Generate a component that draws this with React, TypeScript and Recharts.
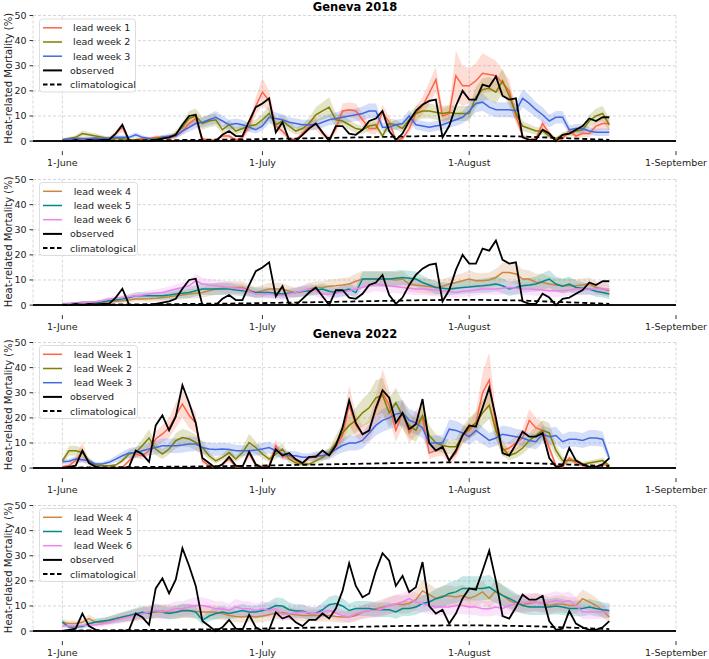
import React from 'react';
import { ComposedChart, Line, Area, XAxis, YAxis, CartesianGrid, ReferenceLine } from 'recharts';

// ---------- categories / ticks ----------
const DAYS = Array.from({ length: 83 }, (_, i) => i); // day offsets from 1 June (1 June .. 22 August)
const X_TICKS = [0, 30, 61, 92];
const X_TICK_LABELS = ['1-June', '1-July', '1-August', '1-September'];
const Y_TICKS = [0, 10, 20, 30, 40, 50];
const TITLES = ['Geneva 2018', 'Geneva 2022'];
const Y_LABEL = 'Heat-related Mortality (%)';

// ---------- 2018 ----------
const OBS_2018 = [
  0, 0, 0.5, 0, 0.5, 0.3, 0.5, 0.5, 3, 6.5,
  0.2, 0, 0, 0, 0.5, 1, 1.5, 2.5, 6.5, 10,
  10.5, 0, 0, 0, 2.5, 4, 2, 2, 8, 13.5,
  15, 17, 3.5, 7.5, 0.5, 0, 2.5, 5, 7, 3.5,
  0, 6, 6, 3, 2.5, 4.5, 8, 9, 12, 4,
  0.5, 3, 8, 12, 14.5, 16, 16.5, 1.5, 6, 14,
  20, 16.5, 16.5, 22.5, 21.7, 25.7, 18, 16.5, 17, 1.5,
  0.5, 0.5, 4.5, 3, 0, 2.5, 3, 4.5, 6, 9,
  8, 9.5, 9.5,
];
const CLIM_2018 = [
  0.1, 0.1, 0.1, 0.15, 0.15, 0.2, 0.2, 0.2, 0.25, 0.25,
  0.3, 0.3, 0.3, 0.35, 0.35, 0.4, 0.4, 0.4, 0.45, 0.45,
  0.5, 0.5, 0.55, 0.55, 0.6, 0.6, 0.65, 0.7, 0.7, 0.75,
  0.8, 0.85, 0.9, 0.95, 1.0, 1.0, 1.1, 1.1, 1.2, 1.2,
  1.3, 1.3, 1.4, 1.4, 1.5, 1.5, 1.6, 1.6, 1.7, 1.7,
  1.8, 1.8, 1.9, 1.9, 2.0, 2.0, 2.0, 2.1, 2.1, 2.1,
  2.1, 2.1, 2.1, 2.1, 2.0, 2.0, 2.0, 1.9, 1.9, 1.8,
  1.7, 1.6, 1.5, 1.4, 1.3, 1.2, 1.1, 1.0, 0.9, 0.8,
  0.7, 0.6, 0.5,
];
const LEAD1_2018 = [
  0.5, 0.8, 1, 0.8, 0.7, 1, 0.8, 1, 3, 5.5,
  0.5, 0.5, 1, 1, 1.5, 1.5, 1, 2, 4, 7,
  9, 1, 0.2, 0.5, 2, 2, 0.5, 1.5, 6, 14,
  19.5, 16, 6, 4, 1, 0.5, 3, 6, 7, 3,
  1, 5, 12, 12.5, 12, 8.5, 5, 5, 11.5, 7.5,
  0.5, 1, 5, 11, 14, 19, 24.5, 10, 11, 26,
  22, 22, 24, 27, 26.5, 26, 23, 20, 10, 2,
  0.5, 1, 7, 3, 0, 1, 4, 2, 3, 3,
  6, 7, 7,
];
const SPREAD1_2018 = [
  0.5, 0.5, 0.6, 0.5, 0.5, 0.6, 0.5, 0.6, 1.2, 2,
  0.5, 0.5, 0.6, 0.6, 0.8, 0.8, 0.6, 1, 1.5, 2,
  2.5, 0.8, 0.3, 0.5, 1, 1, 0.5, 1, 2, 3.5,
  5.5, 4, 2, 1.5, 0.8, 0.5, 1.2, 2, 2.5, 1.5,
  1, 2, 3, 3, 3, 2.5, 2, 2.5, 3, 2.5,
  0.5, 0.8, 2, 3, 3.5, 4.5, 5, 3, 3, 10,
  8, 7, 7, 8, 7, 6, 5, 4.5, 3, 1,
  0.5, 0.8, 2, 1.5, 0.3, 0.8, 1.5, 1, 1.5, 1.5,
  2, 2.5, 2.5,
];
const LEAD2_2018 = [
  0.5, 1, 1.5, 3, 2.5, 2, 1.5, 1, 1, 1,
  0.5, 0.5, 0.5, 0.5, 1, 1.5, 1.5, 3, 5.5, 9,
  10, 7, 8, 8.5, 4.5, 6.5, 4, 5, 6, 6.5,
  8.5, 11, 6.5, 8, 6, 4, 5, 7, 10.5, 12,
  13.5, 8.5, 8, 6.5, 5, 4.5, 6, 6.5, 2, 7,
  6.5, 5, 8.5, 11, 12, 12, 11.5, 11, 11.5, 11,
  11, 11, 17.5, 20.5, 21, 19.5, 24, 18, 11, 6,
  5, 4, 4, 2, 1, 2.5, 3, 4, 4.5, 8,
  10, 11, 6.5,
];
const SPREAD2_2018 = [
  0.5, 0.6, 0.8, 1.2, 1, 1, 0.8, 0.6, 0.6, 0.6,
  0.4, 0.4, 0.4, 0.4, 0.6, 0.8, 0.8, 1.2, 2, 3,
  3, 2.5, 2.5, 2.5, 1.5, 2, 1.5, 1.8, 2, 2,
  2.5, 3, 2, 2.5, 2, 1.5, 1.8, 2.2, 3, 3.5,
  4, 2.5, 2.5, 2, 1.8, 1.6, 2, 2, 1, 2,
  2, 1.8, 2.5, 3, 3, 3, 3, 3, 3, 3,
  3, 3, 4, 4.5, 4.5, 4.5, 5, 4, 3, 2,
  1.8, 1.5, 1.5, 1, 0.6, 1, 1.2, 1.5, 1.5, 2.5,
  3, 3, 2.5,
];
const LEAD3_2018 = [
  0.5, 0.8, 1, 1, 1, 1.2, 1, 1.2, 1.5, 1.5,
  1.5, 2.5, 1.5, 1, 0.5, 1.5, 2, 2, 4, 5.5,
  7, 7.5, 8.5, 9.5, 8, 6.5, 7, 6.5, 5.5, 4.5,
  6, 9.5, 9, 8.5, 7.5, 7, 6.5, 6.5, 6.5, 7.5,
  8.5, 9, 9.5, 10, 10.5, 11, 12, 12, 5.5, 5.5,
  6.5, 7, 10, 6.5, 6, 5.5, 6, 6.5, 7.5, 8.5,
  9.5, 12, 15, 15.5, 13.5, 12.5, 12.5, 12.5, 12, 17,
  15, 12.5, 10.5, 8, 9.5, 9.5, 4.5, 5, 5, 4,
  3.5, 3.5, 3.5,
];
const SPREAD3_2018 = [
  0.5, 0.5, 0.6, 0.6, 0.6, 0.7, 0.6, 0.7, 0.8, 0.8,
  0.8, 1, 0.8, 0.6, 0.5, 0.8, 1, 1, 1.5, 1.8,
  2, 2, 2.2, 2.5, 2.2, 2, 2, 2, 1.8, 1.5,
  1.8, 2.5, 2.5, 2.2, 2, 2, 2, 2, 2, 2.2,
  2.2, 2.5, 2.5, 2.5, 2.5, 2.8, 3, 3, 1.8, 1.8,
  2, 2, 2.5, 2, 2, 2, 2, 2, 2.2, 2.5,
  2.5, 3, 3.5, 3.5, 3, 3, 3, 3, 3, 3.5,
  3.5, 3, 3, 2.5, 2.5, 2.5, 1.8, 1.8, 1.8, 1.5,
  1.5, 1.5, 1.5,
];
const LEAD4_2018 = [
  0.5, 0.5, 0.6, 0.7, 0.8, 0.8, 1, 1.2, 1.5, 1.7,
  2, 2.4, 2.4, 2.5, 2.7, 3, 3.3, 3.7, 4, 4.4,
  4.7, 5, 5.7, 6.4, 6.7, 7, 7, 7, 6, 5,
  5.7, 6.4, 6.4, 6.4, 5.5, 5, 5.5, 6.4, 7, 7,
  7.5, 7.7, 8, 8.4, 9.5, 10.4, 10.4, 10.4, 10.4, 10.4,
  10, 10.4, 8.4, 8, 7.7, 7.4, 7, 7.5, 8.4, 9,
  9.7, 10.4, 9.7, 9.7, 10, 11, 13, 13, 12.4, 10.4,
  10.4, 9, 9, 8.4, 8, 7.7, 7.7, 7.7, 8, 8.4,
  7, 6.4, 5.7,
];
const SPREAD4_2018 = [
  0.5, 0.5, 0.5, 0.6, 0.6, 0.7, 0.7, 0.7, 0.8, 0.9,
  1, 1, 1, 1.2, 1.3, 1.5, 1.6, 1.7, 1.8, 1.9,
  2, 2, 2.2, 2.4, 2.5, 2.5, 2.5, 2.5, 2.3, 2.2,
  2.2, 2.5, 2.5, 2.4, 2.2, 2, 2.2, 2.5, 2.5, 2.5,
  2.7, 2.7, 2.8, 2.8, 3, 3.2, 3.2, 3.2, 3.2, 3.2,
  3.2, 3.2, 3, 3, 3, 3, 3, 2.8, 2.8, 3,
  3, 3.5, 3.2, 3, 3, 3.5, 3.8, 3.8, 4, 3.8,
  3.5, 3.5, 3.5, 3, 2.8, 2.8, 2.8, 2.6, 2.6, 2.6,
  2.5, 2.5, 2.5,
];
const LEAD5_2018 = [
  0.4, 0.5, 0.7, 1, 1, 1, 1.2, 1.7, 2, 2.4,
  3, 3.7, 3.7, 3.7, 3.7, 3.7, 4, 4.4, 4.7, 5,
  5.7, 6.4, 6.4, 6.4, 6.4, 6.4, 6, 5.7, 5.4, 5,
  5, 5, 4.7, 4.4, 4.7, 5, 5.4, 5.7, 6, 6.4,
  5.5, 5, 5.7, 6.4, 5, 10.4, 10.4, 10.4, 10.4, 10.4,
  10.7, 11, 10.7, 10.4, 9, 8, 7, 6.7, 6.4, 6.7,
  7, 7.2, 7.5, 7.7, 8, 8.4, 7.7, 6.4, 7, 7.7,
  8, 8.4, 9.4, 10.4, 8.4, 7.5, 8.4, 7, 6.7, 6.4,
  5.5, 5, 4.4,
];
const SPREAD5_2018 = [
  0.5, 0.5, 0.5, 0.6, 0.6, 0.6, 0.7, 0.8, 1, 1.2,
  1.2, 1.4, 1.4, 1.4, 1.5, 1.6, 1.8, 2, 2, 2.2,
  2.2, 2.4, 2.4, 2.4, 2.4, 2.4, 2.2, 2.2, 2, 2,
  2, 2, 1.8, 1.8, 1.8, 1.8, 2, 2, 2, 2.2,
  2.2, 2, 2.2, 2.4, 2.2, 3, 3, 3, 3, 3,
  3, 3, 3, 3, 2.8, 2.5, 2.5, 2.5, 2.5, 2.5,
  2.6, 2.6, 2.7, 2.8, 3, 3, 3, 2.8, 2.8, 2.8,
  2.8, 3, 3.3, 3.5, 3, 3, 3, 2.8, 2.5, 2.2,
  2.2, 2, 2,
];
const LEAD6_2018 = [
  0.4, 0.5, 0.7, 0.9, 1.1, 1.3, 1.8, 2.4, 2.7, 3,
  3.3, 3.7, 4, 4.4, 4.7, 5, 5.7, 6.4, 7, 7.7,
  9.7, 8.4, 8, 7.7, 7.4, 7, 6.7, 6.4, 5.4, 4.4,
  4.4, 4.4, 4, 3.7, 4.4, 5, 5.7, 6.4, 5.7, 4.4,
  4.4, 4.7, 5.2, 5.7, 6.4, 7, 7.7, 8.4, 8, 7.7,
  7.4, 7, 6.7, 6.4, 6.4, 6.2, 6, 5.7, 5.4, 5,
  5.5, 5.7, 6, 6.4, 6.4, 6.4, 6.7, 7, 6.7, 6.4,
  6.4, 6.2, 6, 5.7, 5.7, 5.7, 6, 6.4, 6.4, 6.4,
  6.4, 6.4, 6.4,
];
const SPREAD6_2018 = [
  0.4, 0.4, 0.5, 0.5, 0.6, 0.6, 0.7, 0.8, 1, 1,
  1.2, 1.2, 1.2, 1.4, 1.5, 1.7, 1.7, 1.8, 2, 2.2,
  2.8, 2.5, 2.4, 2.4, 2.4, 2.4, 2.2, 2.2, 2, 1.8,
  1.8, 1.8, 1.8, 1.7, 1.8, 2, 2.2, 2.4, 2.2, 2,
  2, 2, 2.2, 2.3, 2.5, 2.6, 2.8, 2.8, 2.8, 2.8,
  2.6, 2.6, 2.5, 2.5, 2.5, 2.5, 2.5, 2.4, 2.4, 2.2,
  2.2, 2.2, 2.2, 2.2, 2.2, 2.4, 2.5, 2.6, 2.5, 2.5,
  2.5, 2.5, 2.4, 2.4, 2.4, 2.4, 2.4, 2.4, 2.4, 2.4,
  2.4, 2.4, 2.4,
];

// ---------- 2022 ----------
const OBS_2022 = [
  0, 0.5, 1, 7, 2, 0.5, 0, 0, 0, 0,
  0.5, 7, 5.5, 2.5, 17, 21, 15, 20.5, 33, 26,
  18, 4, 2, 0, 1.5, 4.5, 1, 0.5, 6.5, 1.5,
  0, 0.5, 7.5, 5, 6, 3.5, 2, 4.5, 4.5, 7,
  5, 9, 16, 27, 18, 13.5, 15, 24, 31, 28,
  18, 22, 15.5, 17.5, 27.5, 10, 7, 8.5, 3, 7,
  13, 17, 16.5, 24, 32, 20, 6, 5, 9.5, 14.5,
  12.5, 12.5, 14, 4, 0.5, 1, 8, 3, 1.5, 0.5,
  0.5, 1.5, 4,
];
const CLIM_2022 = [
  0.2, 0.2, 0.2, 0.25, 0.25, 0.3, 0.3, 0.3, 0.35, 0.35,
  0.4, 0.4, 0.45, 0.45, 0.5, 0.5, 0.55, 0.55, 0.6, 0.6,
  0.65, 0.7, 0.7, 0.75, 0.8, 0.8, 0.85, 0.9, 0.9, 0.95,
  1.0, 1.05, 1.1, 1.15, 1.2, 1.25, 1.3, 1.35, 1.4, 1.45,
  1.5, 1.55, 1.6, 1.65, 1.7, 1.75, 1.8, 1.85, 1.9, 1.95,
  2.0, 2.05, 2.1, 2.1, 2.15, 2.2, 2.2, 2.25, 2.25, 2.3,
  2.3, 2.3, 2.25, 2.25, 2.2, 2.2, 2.15, 2.1, 2.05, 2.0,
  1.95, 1.9, 1.8, 1.7, 1.6, 1.5, 1.4, 1.3, 1.2, 1.1,
  1.0, 0.9, 0.8,
];
const LEAD1_2022 = [
  0.5, 1, 3, 6.5, 2, 0.5, 0.2, 0.2, 0.2, 0.3,
  2.9, 5.6, 4.9, 6.9, 11.6, 13.6, 16, 21, 25.5, 21,
  18, 2.9, 1, 0.3, 1.6, 3.6, 0.5, 0.5, 6, 1,
  0.5, 1, 9, 4.5, 5, 3, 2, 4, 4.5, 5,
  5.5, 8.5, 13, 25, 17, 13.5, 15, 23, 30, 25,
  15, 22, 14, 18, 20, 6, 7, 8, 3, 6,
  13, 15, 18, 30, 35, 17, 7, 8, 10, 12,
  19, 16, 15, 8, 1, 0.5, 4, 2, 1, 0.5,
  0.5, 1.5, 1,
];
const SPREAD1_2022 = [
  0.5, 0.8, 1.5, 4, 1, 0.4, 0.2, 0.2, 0.2, 0.3,
  1, 1.5, 1.5, 2, 3, 3.5, 4, 5, 5.5, 5,
  4, 1.2, 0.6, 0.3, 0.6, 1.2, 0.4, 0.4, 2, 0.6,
  0.4, 0.6, 2.5, 1.5, 1.5, 1, 0.8, 1.2, 1.5, 1.5,
  1.5, 2.5, 3.5, 8, 4.5, 3.5, 4, 6, 9.5, 6,
  4.5, 5.5, 4, 5, 5, 2.5, 2.5, 3, 1.5, 2,
  3, 3.5, 4.5, 8, 11, 5, 2.5, 2.5, 3, 3.5,
  4.5, 4, 3.5, 2.5, 0.8, 0.4, 1.2, 0.8, 0.5, 0.3,
  0.3, 0.6, 0.5,
];
const LEAD2_2022 = [
  2.9, 6.9, 6.9, 6.2, 2.9, 1.2, 0.9, 0.9, 1.2, 3,
  5.6, 6.2, 9, 12, 7.6, 5.6, 7.6, 10.9, 12.2, 11.6,
  10.2, 8.2, 4.9, 2.9, 4.3, 6.2, 3.6, 6.2, 10.2, 8.2,
  5.6, 3.6, 5.6, 7.6, 3.6, 2, 1.6, 1.6, 2.9, 4.3,
  6.2, 10, 14, 17, 19, 22, 24, 28, 29, 22,
  26, 21, 17, 15, 21, 13, 10, 9, 8.5, 8.5,
  13, 16, 18, 22, 25, 15, 8, 5, 6, 8,
  11, 13, 15, 14, 7, 3, 3, 3, 1.5, 2,
  2.5, 3, 1,
];
const SPREAD2_2022 = [
  1, 2, 2, 1.8, 1, 0.5, 0.3, 0.3, 0.5, 1,
  1.5, 2, 2.5, 3.5, 2.5, 2, 2.2, 3, 3.5, 3.2,
  3, 2.5, 1.5, 1.2, 1.2, 2, 1.2, 2, 3.5, 2.5,
  1.8, 1.2, 2, 2.5, 1.5, 1, 0.8, 0.8, 1.2, 1.5,
  2, 3, 4, 4.5, 5, 5.5, 6, 7, 7, 6,
  6, 5.5, 5, 4.5, 5.5, 4, 3.5, 3, 3, 3,
  3.5, 4, 4.5, 5, 5.5, 4, 3, 2, 2, 2.5,
  3, 3.5, 4, 4, 2.5, 1.5, 1.2, 1.2, 0.8, 1,
  1, 1.2, 0.6,
];
const LEAD3_2022 = [
  2.5, 2.7, 3.6, 3.3, 2.9, 1.6, 1.6, 2.3, 3.6, 4.9,
  6, 6.2, 6.9, 7.6, 8.2, 8.9, 8.9, 8.9, 9.2, 9.6,
  9.6, 8.2, 7.6, 7.4, 7.6, 7.4, 6.9, 6.9, 6.9, 7.2,
  7.6, 8.2, 6.9, 5.6, 5, 4.9, 4.3, 4.3, 4.9, 4.9,
  5.5, 7.5, 9, 10, 10, 11, 14, 17, 19, 20,
  21.5, 22, 19, 18, 16, 10, 10, 10, 15.5, 15,
  14, 12.5, 15, 13, 11, 12, 13.5, 13, 12.5, 12,
  11, 10.5, 13.5, 12.5, 13, 10.5, 11.5, 11.5, 11, 12,
  12, 11.5, 4,
];
const SPREAD3_2022 = [
  1, 1, 1.2, 1.2, 1, 0.8, 0.8, 1, 1.3, 1.6,
  2, 2.2, 2.4, 2.5, 2.8, 3, 2.8, 3, 3, 3,
  2.8, 2.5, 2.5, 2.5, 2.5, 2.4, 2.4, 2.2, 2.2, 2.2,
  2.4, 2.4, 2.2, 2, 1.8, 1.8, 1.6, 1.6, 1.8, 1.8,
  2.2, 2.5, 2.8, 3, 3, 3.2, 3.5, 4, 4.5, 4.5,
  5, 5, 4.5, 4.5, 4, 3, 3, 3, 3.8, 3.8,
  3.5, 3.2, 3.8, 3.5, 3, 3.2, 3.5, 3.5, 3.2, 3.2,
  3, 3, 3.5, 3.5, 3.5, 3, 3, 3, 3, 3.2,
  3.2, 3, 1.5,
];
const LEAD4_2022 = [
  3.5, 3, 3, 3.5, 5, 3.5, 3.5, 4.3, 5, 5.5,
  6, 6.5, 7, 7.5, 7.5, 8, 7.5, 7.5, 8, 8,
  7.8, 7.6, 7.6, 7.5, 7, 6.2, 5.8, 5.6, 6, 5.6,
  6, 6.5, 7.2, 7.4, 6.9, 6.5, 6.2, 6.2, 6.2, 6.2,
  6.2, 5.8, 5.6, 5.6, 6.2, 7.6, 8.2, 8.9, 9.5, 10.2,
  10.9, 10.5, 11, 12.5, 16, 14.5, 13, 14, 14, 13.6,
  14.2, 13, 14, 15.6, 13, 16.2, 14.2, 12.2, 11, 10.6,
  11, 11.6, 11, 10.2, 10.8, 10.8, 10.2, 10.2, 12.9, 11.6,
  10.2, 8.2, 5.6,
];
const SPREAD4_2022 = [
  1.2, 1.2, 1.2, 1.3, 1.6, 1.4, 1.4, 1.6, 1.8, 2,
  2.2, 2.3, 2.5, 2.6, 2.6, 2.8, 2.7, 2.7, 2.8, 2.8,
  2.8, 2.8, 2.8, 2.7, 2.6, 2.4, 2.3, 2.3, 2.4, 2.3,
  2.4, 2.5, 2.6, 2.6, 2.5, 2.5, 2.4, 2.4, 2.4, 2.4,
  2.4, 2.3, 2.3, 2.3, 2.4, 2.7, 2.9, 3, 3.2, 3.4,
  3.6, 3.6, 3.8, 4, 4.6, 4.3, 4, 4.2, 4.2, 4.1,
  4.2, 4, 4.2, 4.4, 4, 4.6, 4.2, 3.8, 3.5, 3.4,
  3.5, 3.6, 3.5, 3.3, 3.4, 3.4, 3.3, 3.3, 3.8, 3.5,
  3.2, 2.8, 2.2,
];
const LEAD5_2022 = [
  3.6, 1.6, 1.6, 1.8, 2.9, 3.6, 4, 4.3, 4.9, 5.6,
  6.2, 6.9, 7.5, 7, 8.2, 7.5, 7, 7.5, 8.2, 8.2,
  7.6, 4.3, 6, 7, 7.6, 7, 7.6, 8.2, 7.6, 7.6,
  8.2, 8.9, 10.2, 10, 8.5, 8, 8, 7, 7, 8.5,
  10.5, 11, 10, 8.2, 9, 9, 9, 8.5, 8.5, 8.5,
  7.6, 9, 9, 9.6, 11, 11.6, 12.9, 13.6, 15, 15.6,
  17, 17, 17, 17, 17.5, 15.6, 14.2, 13, 11.6, 10.2,
  9.6, 9.6, 9.6, 9.6, 10, 9.6, 9, 9, 9, 9.6,
  9, 8.5, 8.2,
];
const SPREAD5_2022 = [
  1.2, 0.7, 0.7, 0.8, 1.1, 1.3, 1.4, 1.5, 1.7, 1.9,
  2.1, 2.3, 2.5, 2.4, 2.7, 2.5, 2.4, 2.5, 2.7, 2.7,
  2.5, 1.8, 2.1, 2.4, 2.5, 2.4, 2.5, 2.7, 2.5, 2.5,
  2.7, 2.9, 3.2, 3.2, 2.9, 2.7, 2.7, 2.5, 2.5, 2.8,
  3.2, 3.4, 3.2, 2.8, 3, 3, 3, 2.9, 2.9, 2.9,
  2.7, 3, 3, 3.1, 3.4, 3.6, 3.9, 4.1, 4.4, 4.5,
  4.8, 4.8, 4.8, 4.8, 4.9, 4.5, 4.2, 3.9, 3.6, 3.3,
  3.2, 3.2, 3.2, 3.2, 3.3, 3.2, 3.1, 3.1, 3.1, 3.2,
  3.1, 3, 2.9,
];
const LEAD6_2022 = [
  2, 2, 2, 2.2, 2.3, 2.5, 2.9, 3.5, 4.3, 5,
  5.6, 6.2, 6.9, 7.5, 8.2, 7.6, 8.2, 8.9, 8.9, 9.6,
  10.2, 10.2, 9.6, 8.9, 8.9, 8.2, 9.6, 8.9, 8.9, 8.2,
  8.9, 8.2, 8.9, 6.5, 6.9, 7.2, 7.6, 7.2, 6.9, 7.5,
  8.2, 7.2, 6.2, 5.6, 7, 7.6, 8.2, 8.2, 8.9, 10.2,
  10.9, 11.6, 12.9, 11.6, 10.9, 10.2, 9.6, 9.6, 9.6, 10.2,
  10.2, 9.6, 9.6, 8.9, 8.9, 9.6, 9, 10.2, 10.9, 11.6,
  11.6, 11.6, 10.9, 11.6, 12.2, 11.6, 12.2, 10.2, 7.6, 7.6,
  7.6, 7.6, 7.6,
];
const SPREAD6_2022 = [
  0.8, 0.8, 0.8, 0.9, 0.9, 1, 1.1, 1.3, 1.6, 1.8,
  2, 2.2, 2.4, 2.6, 2.8, 2.6, 2.8, 3, 3, 3.2,
  3.3, 3.3, 3.2, 3, 3, 2.8, 3.2, 3, 3, 2.8,
  3, 2.8, 3, 2.4, 2.5, 2.6, 2.7, 2.6, 2.5, 2.7,
  2.8, 2.6, 2.3, 2.2, 2.5, 2.7, 2.9, 2.9, 3.1, 3.4,
  3.5, 3.6, 3.8, 3.6, 3.5, 3.4, 3.3, 3.3, 3.3, 3.4,
  3.4, 3.3, 3.3, 3.1, 3.1, 3.3, 3.2, 3.4, 3.5, 3.6,
  3.6, 3.6, 3.5, 3.6, 3.7, 3.6, 3.7, 3.4, 2.8, 2.8,
  2.8, 2.8, 2.8,
];

// ---------- layout ----------
const W = 709;
const H = 659;
const PLOT_LEFT = 33;
const PLOT_RIGHT = 676;
const PLOT_H = 125.6;
const MARGIN_TOP = 15.5;
const CHART_H = 172;
const X_DOMAIN: [number, number] = [-4.4, 92];
const PANEL_TOPS = [15.5, 179, 342, 505];
const FONT = 'DejaVu Sans';

const COLORS = {
  l1: '#ff6347',
  l2: '#808000',
  l3: '#4169e1',
  l4: '#cd853f',
  l5: '#008b8b',
  l6: '#ee82ee',
};

type Series = { key: string; label: string; color: string; values: number[]; spread: number[] };

const PANELS: { obs: number[]; clim: number[]; series: Series[]; textX: number }[] = [
  {
    obs: OBS_2018, clim: CLIM_2018, textX: 73,
    series: [
      { key: 'a', label: 'lead week 1', color: COLORS.l1, values: LEAD1_2018, spread: SPREAD1_2018 },
      { key: 'b', label: 'lead week 2', color: COLORS.l2, values: LEAD2_2018, spread: SPREAD2_2018 },
      { key: 'c', label: 'lead week 3', color: COLORS.l3, values: LEAD3_2018, spread: SPREAD3_2018 },
    ],
  },
  {
    obs: OBS_2018, clim: CLIM_2018, textX: 73.7,
    series: [
      { key: 'a', label: 'lead week 4', color: COLORS.l4, values: LEAD4_2018, spread: SPREAD4_2018 },
      { key: 'b', label: 'lead week 5', color: COLORS.l5, values: LEAD5_2018, spread: SPREAD5_2018 },
      { key: 'c', label: 'lead week 6', color: COLORS.l6, values: LEAD6_2018, spread: SPREAD6_2018 },
    ],
  },
  {
    obs: OBS_2022, clim: CLIM_2022, textX: 73.7,
    series: [
      { key: 'a', label: 'lead Week 1', color: COLORS.l1, values: LEAD1_2022, spread: SPREAD1_2022 },
      { key: 'b', label: 'lead Week 2', color: COLORS.l2, values: LEAD2_2022, spread: SPREAD2_2022 },
      { key: 'c', label: 'lead Week 3', color: COLORS.l3, values: LEAD3_2022, spread: SPREAD3_2022 },
    ],
  },
  {
    obs: OBS_2022, clim: CLIM_2022, textX: 73.7,
    series: [
      { key: 'a', label: 'lead Week 4', color: COLORS.l4, values: LEAD4_2022, spread: SPREAD4_2022 },
      { key: 'b', label: 'lead Week 5', color: COLORS.l5, values: LEAD5_2022, spread: SPREAD5_2022 },
      { key: 'c', label: 'lead Week 6', color: COLORS.l6, values: LEAD6_2022, spread: SPREAD6_2022 },
    ],
  },
];

function buildRows(obs: number[], clim: number[], series: Series[]) {
  return DAYS.map((d, i) => {
    const row: any = { day: d, obs: obs[i], clim: clim[i] };
    series.forEach((s) => {
      const v = s.values[i];
      const sp = s.spread[i];
      row[s.key] = v;
      row[s.key + 'Band'] = [Math.max(0, v - sp), v + sp];
    });
    return row;
  });
}

function XTick(props: any) {
  const { x, y, payload } = props;
  const idx = X_TICKS.indexOf(payload.value);
  return (
    <g>
      <line x1={x} x2={x} y1={y + 10} y2={y + 14} stroke="#333" strokeWidth={1} />
      <text x={x} y={y + 25} textAnchor="middle" fontSize={9.5} fill="#222" fontFamily={FONT}>
        {X_TICK_LABELS[idx]}
      </text>
    </g>
  );
}

function YTick(props: any) {
  const { x, y, payload } = props;
  return (
    <g>
      <line x1={x - 3.5} x2={x} y1={y} y2={y} stroke="#333" strokeWidth={1} />
      <text x={x - 6.5} y={y + 3.4} textAnchor="end" fontSize={9.5} fill="#222" fontFamily={FONT}>
        {payload.value}
      </text>
    </g>
  );
}

function Panel({ index }: { index: number }) {
  const p = PANELS[index];
  const rows = buildRows(p.obs, p.clim, p.series);
  const top = PANEL_TOPS[index] - MARGIN_TOP;
  return (
    <div style={{ position: 'absolute', left: 0, top, width: W, height: CHART_H }}>
      <ComposedChart
        width={W}
        height={CHART_H}
        data={rows}
        margin={{ top: MARGIN_TOP, right: W - PLOT_RIGHT, bottom: 0, left: 0 }}
      >
        <CartesianGrid stroke="#cccccc" strokeDasharray="3 2" strokeWidth={0.8} />
        <XAxis
          dataKey="day"
          type="number"
          domain={X_DOMAIN}
          ticks={X_TICKS}
          allowDataOverflow
          axisLine={false}
          tickLine={false}
          tickSize={0}
          tickMargin={0}
          height={CHART_H - MARGIN_TOP - PLOT_H}
          tick={<XTick />}
          interval={0}
        />
        <YAxis
          type="number"
          domain={[0, 50]}
          ticks={Y_TICKS}
          axisLine={false}
          tickLine={false}
          tickSize={0}
          tickMargin={0}
          width={PLOT_LEFT}
          tick={<YTick />}
          interval={0}
        />
        <ReferenceLine y={0} stroke="#111" strokeWidth={2} />
        {p.series.map((s) => (
          <Area
            key={s.key + 'Band'}
            dataKey={s.key + 'Band'}
            type="linear"
            stroke="none"
            fill={s.color}
            fillOpacity={0.22}
            isAnimationActive={false}
            dot={false}
            activeDot={false}
          />
        ))}
        {p.series.map((s) => (
          <Line
            key={s.key}
            dataKey={s.key}
            type="linear"
            stroke={s.color}
            strokeWidth={1.5}
            dot={false}
            activeDot={false}
            isAnimationActive={false}
          />
        ))}
        <Line dataKey="obs" type="linear" stroke="#000" strokeWidth={1.8} dot={false} activeDot={false} isAnimationActive={false} />
        <Line dataKey="clim" type="linear" stroke="#000" strokeWidth={1.8} strokeDasharray="5 3" dot={false} activeDot={false} isAnimationActive={false} />
      </ComposedChart>
    </div>
  );
}

function Overlay() {
  return (
    <svg width={W} height={H} style={{ position: 'absolute', left: 0, top: 0, pointerEvents: 'none' }}>
      <text x={355} y={10.8} textAnchor="middle" fontSize={11.5} fontWeight="bold" fill="#000" fontFamily={FONT}>
        {TITLES[0]}
      </text>
      <text x={355} y={337.5} textAnchor="middle" fontSize={11.5} fontWeight="bold" fill="#000" fontFamily={FONT}>
        {TITLES[1]}
      </text>
      {PANEL_TOPS.map((t, i) => {
        const cy = t + PLOT_H / 2;
        const p = PANELS[i];
        const boxTop = t + 3.5;
        const rowY = (k: number) => t + 12.3 + 14.2 * k;
        const entries = [
          ...p.series.map((s) => ({ label: s.label, color: s.color, dash: false, w: 1.5, x: p.textX })),
          { label: 'observed', color: '#000', dash: false, w: 2, x: 70 },
          { label: 'climatological', color: '#000', dash: true, w: 2, x: 70 },
        ];
        return (
          <g key={i}>
            <text
              x={0}
              y={0}
              transform={`translate(11.8, ${cy}) rotate(-90)`}
              textAnchor="middle"
              fontSize={10}
              fill="#222"
              fontFamily={FONT}
            >
              {Y_LABEL}
            </text>
            <rect
              x={39.5}
              y={boxTop}
              width={i === 0 ? 96 : 98}
              height={73}
              rx={3}
              fill="#fff"
              fillOpacity={0.85}
              stroke="#d6d6d6"
              strokeWidth={0.8}
            />
            {entries.map((e, k) => (
              <g key={k}>
                <line
                  x1={43}
                  x2={62}
                  y1={rowY(k)}
                  y2={rowY(k)}
                  stroke={e.color}
                  strokeWidth={e.w}
                  strokeDasharray={e.dash ? '4.5 2.5' : undefined}
                />
                <text x={e.x} y={rowY(k) + 3.4} fontSize={9.5} fill="#222" fontFamily={FONT}>
                  {e.label}
                </text>
              </g>
            ))}
          </g>
        );
      })}
    </svg>
  );
}

export default function App() {
  return (
    <div style={{ position: 'absolute', left: 0, top: 0, width: W, height: H, background: '#fff' }}>
      {PANELS.map((_, i) => (
        <Panel key={i} index={i} />
      ))}
      <Overlay />
    </div>
  );
}
